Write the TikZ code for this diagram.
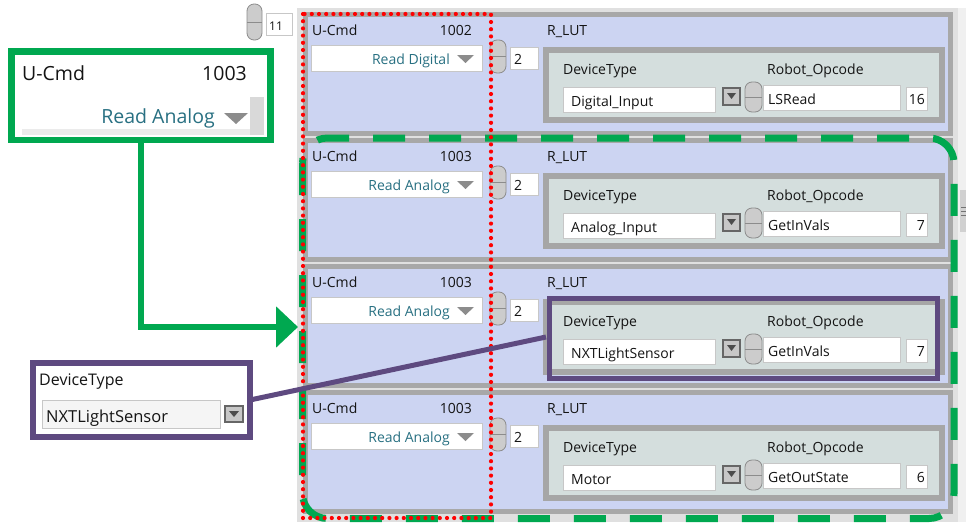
\documentclass[tikz,border=0pt]{standalone}
\usepackage{fontspec}
\setmainfont{Open Sans}
\usetikzlibrary{arrows.meta}
\definecolor{callgreen}{RGB}{0,168,80}
\definecolor{callpurple}{RGB}{94,74,128}
\definecolor{lavender}{RGB}{204,212,242}
\definecolor{lutfill}{RGB}{212,222,221}
\definecolor{framegray}{RGB}{168,168,168}
\definecolor{ddtext}{RGB}{40,112,130}
\definecolor{txt}{RGB}{20,20,20}
\tikzset{
  lbl/.style={font=\fontsize{14}{16}\selectfont, text=txt, inner sep=0pt},
  ddlbl/.style={font=\fontsize{14}{16}\selectfont, text=ddtext, inner sep=0pt},
  whitebox/.style={fill=white, draw=black!22, line width=1},
  spinner/.style={fill=black!20, draw=black!45, line width=0.8, rounded corners=7},
  ddbutton/.style={fill=black!22, draw=black!60, line width=1.2},
  lutbox/.style={draw=black!35, fill=lutfill, line width=6, minimum width=396pt, minimum height=70pt, inner sep=0pt, outer sep=0pt},
  callout/.style={fill=white, inner sep=0pt, outer sep=0pt},
}
\begin{document}
\begin{tikzpicture}[x=1pt, y=-1pt]
\useasboundingbox (0,0) rectangle (966,522);
% array background and scroll bar
\fill[black!12] (297,8) rectangle (958,522);
\fill[black!6] (958,8) rectangle (966,522);
\fill[black!18] (960,190) rectangle (966,232);
\foreach \y in {207,211,215}
  \draw[black!55, line width=0.8] (961,\y) -- (966,\y);
% index control
\draw[spinner] (247,4) rectangle (262,40);
\draw[black!45] (247,22) -- (262,22);
\draw[whitebox] (266,13) rectangle (292,35);
\node[lbl, font=\fontsize{12}{14}\selectfont, anchor=base west] (idx) at (269,30) {11};
% array elements
\foreach \k/\num/\cmd/\dev/\op/\code in {1/1002/Read Digital/Digital\_Input/LSRead/16,
    2/1003/Read Analog/Analog\_Input/GetInVals/7,
    3/1003/Read Analog/NXTLightSensor/GetInVals/7,
    4/1003/Read Analog/Motor/GetOutState/6}{
  \pgfmathsetmacro\t{12+126*(\k-1)}
  \begin{scope}[shift={(0,\t)}]
    \draw[fill=lavender, draw=framegray, line width=5] (305.5,2.5) rectangle (950.5,121.5);
    \node[lbl, anchor=base west] (ucmd\k) at (312,23) {U-Cmd};
    \node[lbl, anchor=base east] (num\k) at (472,23) {\num};
    \draw[whitebox] (311,33) rectangle (482,59);
    \node[ddlbl, anchor=base east] (cmd\k) at (450,52) {\cmd};
    \fill[black!45] (457,43) -- (474,43) -- (465.5,51) -- cycle;
    \draw[spinner] (490,28) rectangle (506,61);
    \draw[black!45] (490,44.5) -- (506,44.5);
    \draw[whitebox] (510,35) rectangle (538,57);
    \node[lbl, anchor=base west] (idx\k) at (514,52) {2};
    \node[lbl, anchor=base west] (rlut\k) at (547,23) {R\_LUT};
    \node[lutbox] (lut\k) at (744,73) {};
    \node[lbl, anchor=base west] (devlbl\k) at (563,62) {DeviceType};
    \node[lbl, anchor=base west] (oplbl\k) at (767,62) {Robot\_Opcode};
    \draw[whitebox] (563,75) rectangle (715,100);
    \node[lbl, anchor=base west] (dev\k) at (571,94) {\dev};
    \draw[ddbutton] (723,76) rectangle (740,93);
    \fill[black!70] (727,81) -- (736,81) -- (731.5,87) -- cycle;
    \draw[spinner] (745,70) rectangle (762,100);
    \draw[black!45] (745,85) -- (762,85);
    \draw[whitebox] (763,73) rectangle (900,98);
    \node[lbl, anchor=base west] (op\k) at (768,92) {\op};
    \draw[whitebox] (906,75) rectangle (927,98);
    \node[lbl, anchor=base east] (code\k) at (925,92) {\code};
  \end{scope}
}
% highlights
\draw[callgreen, line width=7, rounded corners=25, dash pattern=on 32pt off 24pt] (302.5,138) rectangle (954,518.5);
\draw[red, line width=4.2, line cap=round, dash pattern=on 0pt off 7.2pt] (303,14) rectangle (491,518);
\draw[callpurple, line width=5] (549.5,298.5) rectangle (937.5,378.5);
% U-Cmd callout
\node[callout, draw=callgreen, line width=6.5, minimum width=259pt, minimum height=88.5pt] (ucmdcall) at (141,95.75) {};
\node[lbl, font=\fontsize{19.5}{22}\selectfont, anchor=base west] (calltitle) at (22,80) {U-Cmd};
\node[lbl, font=\fontsize{19.5}{22}\selectfont, anchor=base east] (callnum) at (247,80) {1003};
\fill[black!8] (22,129) rectangle (264,135);
\fill[black!15] (250,97) rectangle (264,135);
\node[ddlbl, font=\fontsize{19.5}{22}\selectfont, anchor=base east] (callcmd) at (215,123) {Read Analog};
\fill[black!45] (224,113) -- (248,113) -- (236,124) -- cycle;
\coordinate (arrowtip) at (298,327);
\draw[callgreen, line width=6, -{Triangle[length=22pt, width=40pt]}] (ucmdcall.south) |- (arrowtip);
% DeviceType callout
\node[callout, draw=callpurple, line width=6, minimum width=217pt, minimum height=74pt] (devcall) at (141.5,400) {};
\node[lbl, font=\fontsize{16}{18}\selectfont, anchor=base west] (calldevlbl) at (39,385) {DeviceType};
\draw[whitebox, fill=black!4] (42,400) rectangle (220,428);
\node[lbl, font=\fontsize{16.5}{18}\selectfont, anchor=base west] (calldev) at (46,422) {NXTLightSensor};
\draw[ddbutton] (225,406) rectangle (243,422);
\fill[black!70] (229,411) -- (239,411) -- (234,417) -- cycle;
\draw[callpurple, line width=5] (devcall.east) -- (lut3.west);
\end{tikzpicture}
\end{document}
